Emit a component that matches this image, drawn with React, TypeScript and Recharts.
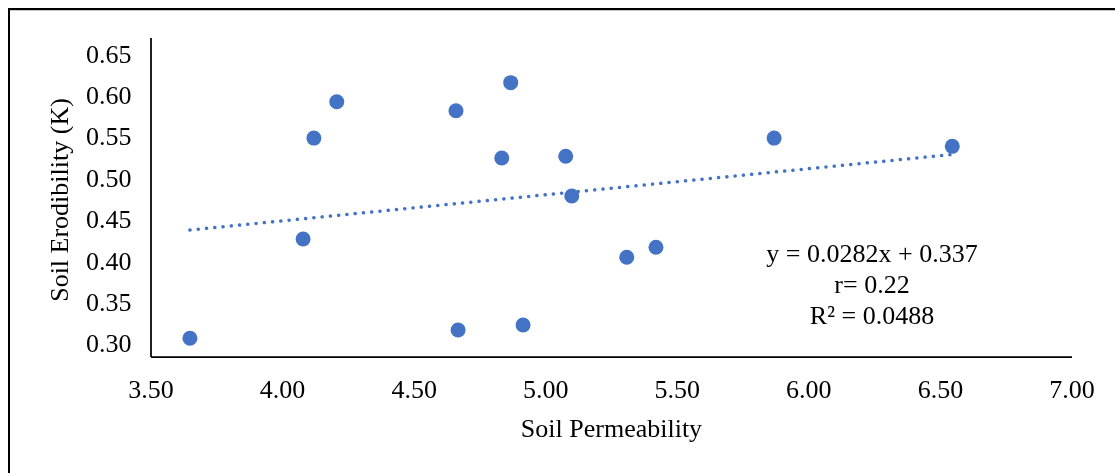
import { ScatterChart, Scatter, XAxis, YAxis, ReferenceLine, Label } from 'recharts'

// Soil permeability vs soil erodibility (K)
const permeability = [3.648, 4.078, 4.119, 4.206, 4.659, 4.667, 4.833, 4.867, 4.914, 5.076, 5.099, 5.308, 5.419, 5.868, 6.545]
const erodibility = [0.306, 0.426, 0.548, 0.592, 0.581, 0.316, 0.524, 0.615, 0.322, 0.526, 0.478, 0.404, 0.416, 0.548, 0.538]

const xTicks = [3.5, 4, 4.5, 5, 5.5, 6, 6.5, 7]
const yTicks = [0.3, 0.35, 0.4, 0.45, 0.5, 0.55, 0.6, 0.65]

const equationLines = ['y = 0.0282x + 0.337', 'r= 0.22', 'R² = 0.0488']

const BLUE = '#4472C4'
const FONT = "'Liberation Serif', 'Times New Roman', serif"

const points = permeability.map((x, i) => ({ x, y: erodibility[i] }))

// linear trendline (least squares) across the data range
const meanX = permeability.reduce((a, b) => a + b, 0) / permeability.length
const meanY = erodibility.reduce((a, b) => a + b, 0) / erodibility.length
let sxy = 0
let sxx = 0
permeability.forEach((x, i) => {
  sxy += (x - meanX) * (erodibility[i] - meanY)
  sxx += (x - meanX) * (x - meanX)
})
const slope = sxy / sxx
const intercept = meanY - slope * meanX
const xMin = Math.min(...permeability)
const xMax = Math.max(...permeability)
const trend = [
  { x: xMin, y: intercept + slope * xMin },
  { x: xMax, y: intercept + slope * xMax },
]

const XTick = ({ x, y, payload }: any) => (
  <text x={x} y={y + 41} textAnchor="middle" fontSize={26} fontFamily={FONT} fill="#000">
    {Number(payload.value).toFixed(2)}
  </text>
)

const YTick = ({ x, y, payload }: any) => (
  <text x={x - 19.5} y={y + 9} textAnchor="end" fontSize={26} fontFamily={FONT} fill="#000">
    {Number(payload.value).toFixed(2)}
  </text>
)

const Dot = (props: any) => <circle cx={props.cx} cy={props.cy} r={7.5} fill={BLUE} />

export default function App() {
  return (
    <div style={{ position: 'relative', width: 1107, height: 457 }}>
      {/* chart frame, cut off at the right and bottom edges */}
      <div
        style={{
          position: 'fixed',
          left: 8,
          top: 8,
          width: 1200,
          height: 600,
          borderTop: '2px solid #000',
          borderLeft: '2px solid #000',
          boxShadow: 'inset 0 1px 0 #c8c8c8',
        }}
      />
      <div style={{ position: 'absolute', left: 0, top: 0 }}>
        <ScatterChart width={1107} height={457} margin={{ top: 30, right: 43, bottom: 48, left: 63 }}>
          <XAxis
            type="number"
            dataKey="x"
            domain={[3.5, 7]}
            ticks={xTicks}
            height={60}
            tickSize={0}
            tickMargin={0}
            tickLine={false}
            axisLine={{ stroke: '#000', strokeWidth: 1.75 }}
            tick={<XTick />}
          >
            <Label
              content={({ viewBox }: any) => (
                <text
                  x={viewBox.x + viewBox.width / 2}
                  y={viewBox.y + 80}
                  textAnchor="middle"
                  fontSize={26}
                  fontFamily={FONT}
                  fill="#000"
                >
                  Soil Permeability
                </text>
              )}
            />
          </XAxis>
          <YAxis
            type="number"
            dataKey="y"
            domain={[0.2834, 0.669]}
            ticks={yTicks}
            width={80}
            tickSize={0}
            tickMargin={0}
            tickLine={false}
            axisLine={{ stroke: '#000', strokeWidth: 1.75 }}
            tick={<YTick />}
          >
            <Label
              content={({ viewBox }: any) => {
                const lx = viewBox.x - 3
                const ly = viewBox.y + viewBox.height / 2 + 2.5
                return (
                  <text
                    x={lx}
                    y={ly}
                    transform={`rotate(-90, ${lx}, ${ly})`}
                    textAnchor="middle"
                    fontSize={26}
                    fontFamily={FONT}
                    fill="#000"
                  >
                    Soil Erodibility (K)
                  </text>
                )
              }}
            />
          </YAxis>
          <ReferenceLine
            segment={trend}
            stroke={BLUE}
            strokeWidth={3.5}
            strokeLinecap="round"
            strokeDasharray="0.1 8.2"
            ifOverflow="visible"
          />
          <Scatter data={points} fill={BLUE} shape={<Dot />} isAnimationActive={false} />
        </ScatterChart>
      </div>
      {/* trendline annotation */}
      <div
        style={{
          position: 'absolute',
          left: 714,
          top: 229.7,
          width: 300,
          textAlign: 'center',
          fontFamily: FONT,
          fontSize: 26,
          lineHeight: '31px',
          color: '#000',
        }}
      >
        {equationLines.map((line) => (
          <div key={line}>{line}</div>
        ))}
      </div>
    </div>
  )
}
